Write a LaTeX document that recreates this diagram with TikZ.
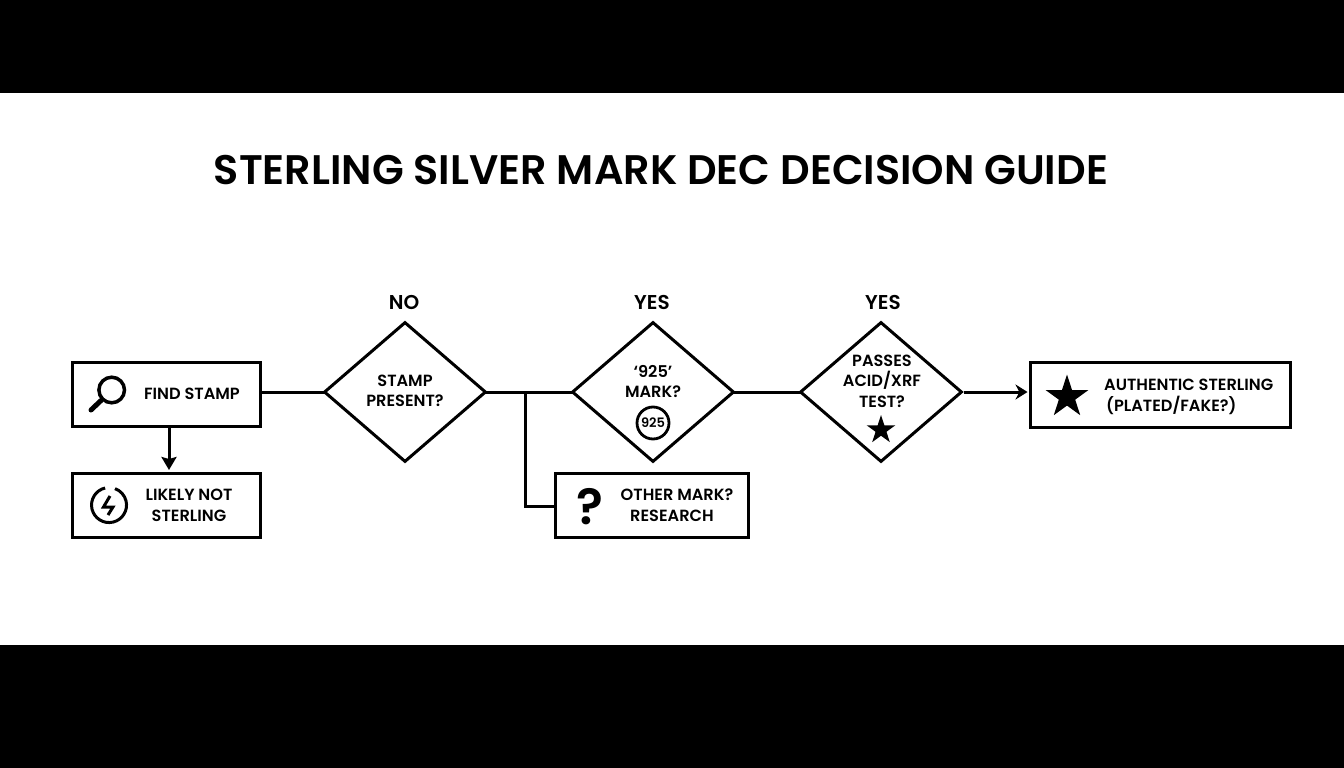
\documentclass[tikz,border=0pt]{standalone}
\usepackage{fontspec}
\setmainfont{Poppins SemiBold}
\newfontfamily\titlefont{Poppins SemiBold}
\usetikzlibrary{shapes.geometric,arrows.meta}
\tikzset{
  x=1pt,y=-1pt,
  stepbox/.style={draw=black,line width=3pt,rectangle,fill=white,inner sep=0pt},
  choice/.style={draw=black,line width=3pt,diamond,aspect=1.157,minimum width=162pt,minimum height=140pt,inner sep=0pt,fill=white,line join=miter},
  lab/.style={font=\fontsize{16.2pt}{20.5pt}\selectfont,align=center,inner sep=0pt,text=black},
  head/.style={font=\fontsize{20pt}{20pt}\selectfont,inner sep=0pt,text=black},
  link/.style={draw=black,line width=3pt,shorten <=-2.5pt,shorten >=-2.5pt},
  blackstar/.style={star,star points=5,star point ratio=2.618,fill=black,inner sep=0pt},
}
\begin{document}
\begin{tikzpicture}
\useasboundingbox (0,0) rectangle (1344,768);
\fill[white] (0,0) rectangle (1344,768);
\fill[black] (0,0) rectangle (1344,93);
\fill[black] (0,645) rectangle (1344,768);

\node[inner sep=0pt,font=\titlefont\fontsize{41.3pt}{42pt}\selectfont] (title) at (661,170) {STERLING SILVER MARK DEC DECISION GUIDE};

\node[stepbox,minimum width=188pt,minimum height=64pt] (find) at (166.5,394.5) {};
\node[stepbox,minimum width=188pt,minimum height=64pt] (likely) at (166.5,505.5) {};
\node[stepbox,minimum width=193pt,minimum height=64pt] (other) at (652,505.5) {};
\node[stepbox,minimum width=260pt,minimum height=65pt] (auth) at (1160.5,395) {};
\node[choice] (d1) at (405,392) {};
\node[choice] (d2) at (653,392) {};
\node[choice] (d3) at (881,392) {};
\coordinate (branch) at (525,392);
\coordinate (elbow) at (525,506);

\draw[link] (find.east |- d1.west) -- (d1.west);
\draw[link] (d1.east) -- (d2.west);
\draw[link] (d2.east) -- (d3.west);
\draw[draw=black,line width=3pt,shorten >=1.5pt,-{Stealth[length=12pt,width=15pt]}] (d3.east) -- (auth.west |- d3.east);
\draw[draw=black,line width=3pt,shorten >=2pt,-{Stealth[length=13pt,width=15pt,inset=2pt]}] (find.south -| 169,0) -- (likely.north -| 169,0);
\draw[draw=black,line width=3pt,line join=miter] (branch) -- (elbow) -- (other.west |- elbow);

\node[lab] (t1) at (192,394) {FIND STAMP};
\node[lab] (t2) at (189,505.5) {LIKELY NOT\\STERLING};
\node[lab] (t3) at (405,391) {STAMP\\PRESENT?};
\node[lab] (t4) at (653,381.5) {‘925’\\MARK?};
\node[lab] (t5) at (882,381) {PASSES\\ACID/XRF\\TEST?};
\node[lab] (t6) at (677,495) {OTHER MARK?};
\node[lab] (t6b) at (672,516) {RESEARCH};
\node[lab,anchor=west] (t7) at (1104,385) {AUTHENTIC STERLING};
\node[lab,anchor=west] (t7b) at (1106,405.5) {(PLATED/FAKE?)};
\node[head] (no) at (404,302) {NO};
\node[head] (y1) at (652,302) {YES};
\node[head] (y2) at (883,302) {YES};

% icons
\draw[line width=3.5pt] (111.7,390) circle (12.8);
\draw[line width=5pt,line cap=round] (101,400.5) -- (91,410);
\draw[line width=3pt] (105.1,488) arc[start angle=-103,end angle=-430,radius=17.5];
\draw[line width=3pt,line join=miter] (110,496) -- (103.5,507) -- (113,507) -- (108,515);
\node[inner sep=0pt,font=\titlefont\fontsize{50pt}{50pt}\selectfont] (q) at (589.5,507) {?};
\node[draw=black,line width=2.8pt,circle,minimum size=32pt,inner sep=0pt,font=\fontsize{13pt}{13pt}\selectfont] (n925) at (653,423) {925};
\node[blackstar,minimum size=30pt] (s1) at (881,430) {};
\node[blackstar,minimum size=45pt] (s2) at (1067,397) {};
\end{tikzpicture}
\end{document}
